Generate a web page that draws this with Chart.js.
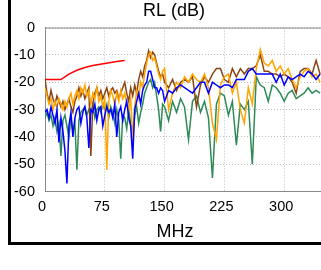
<!DOCTYPE html>
<html>
<head>
<meta charset="utf-8">
<script src="https://cdn.jsdelivr.net/npm/chart.js@4/dist/chart.umd.min.js"></script>
<style>
  html, body { margin: 0; padding: 0; background: #fff; overflow: hidden; width: 321px; height: 270px; }
  #c { position: absolute; left: 0; top: 0; }
  #frame { position: absolute; left: 8px; top: -10px; width: 400px; height: 255px; box-sizing: border-box;
           border-left: 3px solid #000; border-bottom: 3px solid #000; pointer-events: none; }
</style>
</head>
<body>
<canvas id="c" width="400" height="270"></canvas>
<div id="frame"></div>
<script>
// frequencies (MHz) shared by the four measured traces
const freq = [
  0, 2.5, 5, 7.5, 10, 12.5, 15, 17.5, 20, 22.5,
  25, 27.5, 30, 32.5, 35, 37.5, 40, 42.5, 45, 47.5,
  50, 52.5, 55, 57.5, 60, 62.5, 65, 67.5, 70, 72.5,
  75, 77.5, 80, 82.5, 85, 87.5, 90, 92.5, 95, 97.5,
  100, 102.5, 105, 107.5, 110, 112.5, 115, 117.5, 120, 122.5,
  125, 127.5, 130, 132.5, 135, 137.5, 140, 142.5, 145, 147.5,
  150, 155, 160, 165, 170, 175, 180, 185, 190, 195,
  200, 205, 210, 215, 220, 225, 230, 235, 240, 245,
  250, 255, 260, 265, 270, 275, 280, 285, 290, 295,
  300, 305, 310, 315, 320, 325, 330, 335, 340, 345
];

const brown = [
  -19, -24, -27, -23, -26, -28, -25, -27, -29, -27,
  -30, -28, -26, -29, -31, -27, -25, -22, -25, -23,
  -26, -24, -22, -47, -28, -24, -22, -25, -23, -26,
  -24, -22, -25, -23, -22, -24, -23, -26, -24, -22,
  -20, -24, -27, -22, -25, -21, -24, -19, -16, -18,
  -14, -12, -8.5, -11, -9, -10, -13, -16, -18, -17,
  -20, -22, -19, -23, -20, -19, -20, -18, -29, -21,
  -18, -20, -17, -15, -15, -19, -20, -15, -18, -15,
  -17, -15, -15, -14, -10, -16, -16, -17, -17, -18,
  -17, -18, -20, -24, -16, -15, -15, -17, -12, -17
];

const orange = [
  -22, -25, -28, -26, -30, -27, -29, -26, -28, -30,
  -27, -29, -26, -24, -28, -25, -23, -26, -22, -24,
  -21, -25, -23, -28, -24, -26, -22, -27, -25, -29,
  -26, -52, -27, -23, -25, -28, -24, -27, -23, -26,
  -24, -28, -30, -26, -41, -29, -23, -26, -20, -22,
  -17, -13, -10, -9, -12, -11, -14, -17, -19, -16,
  -15, -30, -24, -20, -22, -18, -20, -17, -19, -20,
  -17, -22, -35, -41, -21, -18, -17, -24, -20, -30,
  -35, -22, -28, -15, -8, -13, -14, -12, -16, -14,
  -17, -15, -19, -22, -18, -16, -15, -18, -17, -20
];

const blue = [
  -31, -30, -33, -29, -32, -35, -30, -42, -33, -38,
  -45, -57, -36, -31, -40, -33, -30, -29, -35, -31,
  -29, -33, -44, -30, -31, -28, -34, -30, -29, -36,
  -32, -29, -31, -30, -33, -28, -40, -31, -29, -34,
  -30, -27, -33, -36, -48, -30, -27, -24, -28, -23,
  -21, -20, -16, -16, -19, -22, -22, -24, -22, -23,
  -27, -23, -24, -22, -21, -22, -23, -24, -22, -20,
  -20, -24, -20, -21, -22, -21, -21, -22, -19, -19,
  -19, -16, -15, -17, -17, -17, -17, -17, -20, -17,
  -21, -18, -19, -18, -17, -18, -16, -17, -19, -17
];

const green = [
  -33, -31, -34, -32, -36, -33, -38, -35, -47, -34,
  -32, -36, -40, -33, -38, -35, -52, -34, -31, -30,
  -29, -32, -30, -31, -28, -33, -30, -29, -31, -28,
  -30, -28, -33, -29, -31, -35, -30, -34, -48, -32,
  -33, -37, -30, -35, -41, -32, -29, -35, -31, -28,
  -24, -22, -20, -19, -22, -20, -25, -30, -38, -28,
  -29, -34, -27, -31, -26, -29, -41, -27, -25, -31,
  -27, -33, -55, -28, -24, -25, -32, -27, -43, -28,
  -30, -27, -50, -18, -21, -22, -27, -21, -22, -24,
  -27, -24, -23, -26, -25, -24, -22, -24, -23, -24
];

// limit line
const limitFreq = [0, 20, 30, 40, 50, 60, 75, 90, 100];
const limit = [-19, -19, -17, -15.6, -14.6, -13.9, -13.1, -12.4, -12];

const xTicks = [0, 75, 150, 225, 300, 375];
const yTicks = [0, -10, -20, -30, -40, -50, -60];

const pts = (xs, ys) => xs.map((x, i) => ({ x: x, y: ys[i] }));

function trace(label, xs, ys, color, order) {
  return {
    label: label,
    data: pts(xs, ys),
    borderColor: color,
    borderWidth: 1.5,
    pointRadius: 0,
    tension: 0,
    fill: false,
    order: order
  };
}

// top frame line and the x-axis caption centred on the figure
const extras = {
  id: 'extras',
  afterDatasetsDraw(chart) {
    const { ctx, chartArea } = chart;
    ctx.save();
    ctx.strokeStyle = '#888';
    ctx.lineWidth = 1;
    ctx.beginPath();
    ctx.moveTo(chartArea.left, chartArea.top + 0.5);
    ctx.lineTo(chartArea.right, chartArea.top + 0.5);
    ctx.stroke();
    ctx.fillStyle = '#000';
    ctx.font = '18px Arial, "Liberation Sans", sans-serif';
    ctx.textAlign = 'center';
    ctx.textBaseline = 'alphabetic';
    ctx.fillText('MHz', 175, 237);
    ctx.restore();
  }
};

new Chart(document.getElementById('c').getContext('2d'), {
  type: 'line',
  data: {
    datasets: [
      trace('Limit', limitFreq, limit, '#ff0000', 0),
      trace('Pair 1', freq, blue, '#0000ff', 1),
      trace('Pair 2', freq, orange, '#ffa500', 2),
      trace('Pair 3', freq, brown, '#8b4513', 3),
      trace('Pair 4', freq, green, '#2e8b57', 4)
    ]
  },
  plugins: [extras],
  options: {
    responsive: false,
    animation: false,
    layout: { padding: { left: 4, right: 56, top: 0, bottom: 47 } },
    plugins: {
      legend: { display: false },
      tooltip: { enabled: false },
      title: {
        display: true,
        text: 'RL (dB)',
        color: '#000',
        font: { family: 'Arial, "Liberation Sans", sans-serif', size: 18, weight: 'normal' },
        padding: { top: 0, bottom: 6 }
      }
    },
    scales: {
      x: {
        type: 'linear',
        min: 0,
        max: 375,
        afterBuildTicks: s => { s.ticks = xTicks.map(v => ({ value: v })); },
        ticks: {
          color: '#000',
          padding: 7,
          labelOffset: -3,
          maxRotation: 0,
          font: { family: 'Arial, "Liberation Sans", sans-serif', size: 14.5 }
        },
        grid: { color: '#bdbdbd', drawTicks: false },
        border: { display: true, color: '#888', width: 1, dash: [1, 2] }
      },
      y: {
        min: -60,
        max: 0,
        afterBuildTicks: s => { s.ticks = yTicks.map(v => ({ value: v })); },
        afterFit: s => { s.width = 41; },
        ticks: {
          color: '#000',
          padding: 10,
          font: { family: 'Arial, "Liberation Sans", sans-serif', size: 14.5 }
        },
        grid: { color: '#bdbdbd', drawTicks: false },
        border: { display: true, color: '#888', width: 1, dash: [1, 2] }
      }
    }
  }
});
</script>
</body>
</html>
